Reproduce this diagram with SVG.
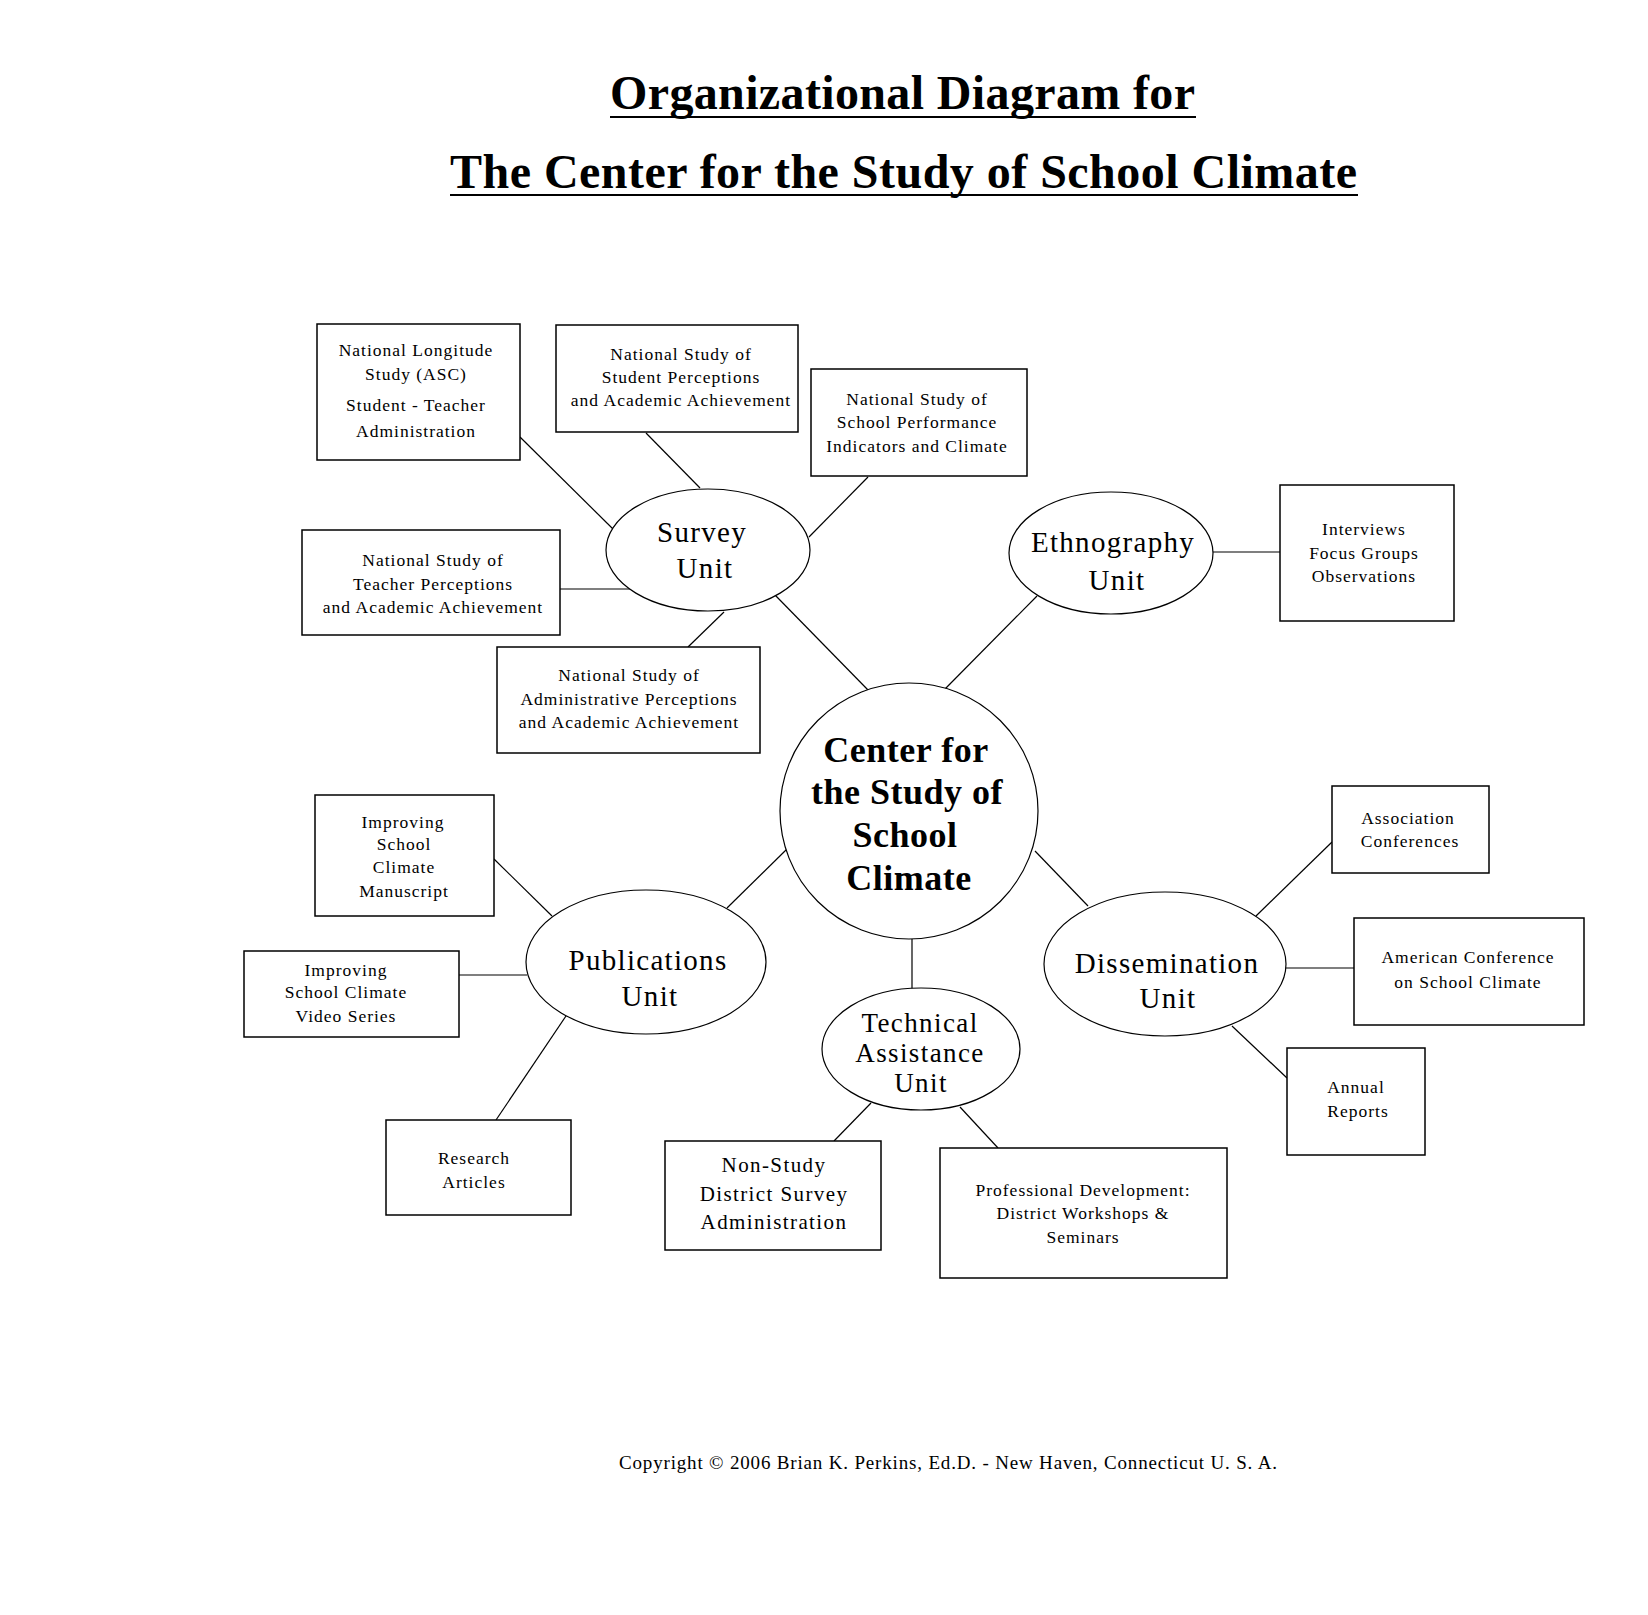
<svg xmlns="http://www.w3.org/2000/svg" width="1648" height="1615" viewBox="0 0 1648 1615">
<style>
  .bg { fill: #fff; }
  .box { fill: #fff; stroke: #000; stroke-width: 1.5; }
  .ell { fill: #fff; stroke: #000; stroke-width: 1.2; }
  .conn line { stroke: #000; stroke-width: 1.2; }
  .ul { stroke: #000; stroke-width: 2; }
  text { font-family: "Liberation Serif", "Times New Roman", serif; fill: #000; text-anchor: middle; }
  .t { font-size: 17.5px; letter-spacing: 1px; }
  .n { font-size: 21px; letter-spacing: 1.4px; }
  .u { font-size: 29px; letter-spacing: 1.3px; }
  .ta { font-size: 27px; letter-spacing: 1.4px; }
  .c { font-size: 36px; font-weight: bold; letter-spacing: 0.5px; }
  .title { font-size: 48px; font-weight: bold; text-anchor: start; }
  .copy { font-size: 19px; text-anchor: start; }
</style>
<rect class="bg" x="0" y="0" width="1648" height="1615"/>

<g id="title">
  <text class="title" x="610" y="109" textLength="585" lengthAdjust="spacing">Organizational Diagram for</text>
  <line class="ul" x1="610" y1="117" x2="1196" y2="117"/>
  <text class="title" x="450" y="188" textLength="907" lengthAdjust="spacing">The Center for the Study of School Climate</text>
  <line class="ul" x1="450" y1="195" x2="1358" y2="195"/>
</g>

<g id="connectors" class="conn">
  <line x1="775" y1="595" x2="868" y2="690"/>
  <line x1="945" y1="689" x2="1037" y2="596"/>
  <line x1="787" y1="849" x2="727" y2="908"/>
  <line x1="1035" y1="851" x2="1088" y2="906"/>
  <line x1="912" y1="939" x2="912" y2="989"/>
  <line x1="520" y1="437" x2="613" y2="529"/>
  <line x1="646" y1="433" x2="700" y2="488"/>
  <line x1="868" y1="477" x2="809" y2="537"/>
  <line x1="560" y1="589" x2="632" y2="589"/>
  <line x1="724" y1="612" x2="688" y2="647"/>
  <line x1="1213" y1="552" x2="1280" y2="552"/>
  <line x1="494" y1="859" x2="552" y2="916"/>
  <line x1="459" y1="975" x2="527" y2="975"/>
  <line x1="566" y1="1016" x2="496" y2="1120"/>
  <line x1="871" y1="1103" x2="834" y2="1141"/>
  <line x1="960" y1="1107" x2="998" y2="1148"/>
  <line x1="1256" y1="916" x2="1332" y2="842"/>
  <line x1="1285" y1="968" x2="1354" y2="968"/>
  <line x1="1232" y1="1026" x2="1287" y2="1078"/>
</g>

<g id="center">
  <ellipse class="ell" cx="909" cy="811" rx="129" ry="128"/>
  <text class="c" x="906" y="762">Center for</text>
  <text class="c" x="907" y="804">the Study of</text>
  <text class="c" x="905" y="847">School</text>
  <text class="c" x="909" y="890">Climate</text>
</g>

<g id="survey-unit">
  <ellipse class="ell" cx="708" cy="550" rx="102" ry="61"/>
  <text class="u" x="702" y="542">Survey</text>
  <text class="u" x="705" y="578">Unit</text>
</g>

<g id="ethnography-unit">
  <ellipse class="ell" cx="1111" cy="553" rx="102" ry="61"/>
  <text class="u" x="1113" y="552">Ethnography</text>
  <text class="u" x="1117" y="590">Unit</text>
</g>

<g id="publications-unit">
  <ellipse class="ell" cx="646" cy="962" rx="120" ry="72"/>
  <text class="u" x="648" y="970">Publications</text>
  <text class="u" x="650" y="1006">Unit</text>
</g>

<g id="dissemination-unit">
  <ellipse class="ell" cx="1165" cy="964" rx="121" ry="72"/>
  <text class="u" x="1167" y="973">Dissemination</text>
  <text class="u" x="1168" y="1008">Unit</text>
</g>

<g id="technical-assistance-unit">
  <ellipse class="ell" cx="921" cy="1049" rx="99" ry="61"/>
  <text class="ta" x="920" y="1032">Technical</text>
  <text class="ta" x="920" y="1062">Assistance</text>
  <text class="ta" x="921" y="1092">Unit</text>
</g>

<g id="longitude-study">
  <rect class="box" x="317" y="324" width="203" height="136"/>
  <text class="t" x="416" y="356">National Longitude</text>
  <text class="t" x="416" y="380">Study (ASC)</text>
  <text class="t" x="416" y="411">Student - Teacher</text>
  <text class="t" x="416" y="437">Administration</text>
</g>

<g id="student-perceptions">
  <rect class="box" x="556" y="325" width="242" height="107"/>
  <text class="t" x="681" y="360">National Study of</text>
  <text class="t" x="681" y="383">Student Perceptions</text>
  <text class="t" x="681" y="406">and Academic Achievement</text>
</g>

<g id="school-performance">
  <rect class="box" x="811" y="369" width="216" height="107"/>
  <text class="t" x="917" y="405">National Study of</text>
  <text class="t" x="917" y="428">School Performance</text>
  <text class="t" x="917" y="452">Indicators and Climate</text>
</g>

<g id="teacher-perceptions">
  <rect class="box" x="302" y="530" width="258" height="105"/>
  <text class="t" x="433" y="566">National Study of</text>
  <text class="t" x="433" y="590">Teacher Perceptions</text>
  <text class="t" x="433" y="613">and Academic Achievement</text>
</g>

<g id="administrative-perceptions">
  <rect class="box" x="497" y="647" width="263" height="106"/>
  <text class="t" x="629" y="681">National Study of</text>
  <text class="t" x="629" y="705">Administrative Perceptions</text>
  <text class="t" x="629" y="728">and Academic Achievement</text>
</g>

<g id="ethnography-methods">
  <rect class="box" x="1280" y="485" width="174" height="136"/>
  <text class="t" x="1364" y="535">Interviews</text>
  <text class="t" x="1364" y="559">Focus Groups</text>
  <text class="t" x="1364" y="582">Observations</text>
</g>

<g id="manuscript">
  <rect class="box" x="315" y="795" width="179" height="121"/>
  <text class="t" x="403" y="828">Improving</text>
  <text class="t" x="404" y="850">School</text>
  <text class="t" x="404" y="873">Climate</text>
  <text class="t" x="404" y="897">Manuscript</text>
</g>

<g id="video-series">
  <rect class="box" x="244" y="951" width="215" height="86"/>
  <text class="t" x="346" y="976">Improving</text>
  <text class="t" x="346" y="998">School Climate</text>
  <text class="t" x="346" y="1022">Video Series</text>
</g>

<g id="research-articles">
  <rect class="box" x="386" y="1120" width="185" height="95"/>
  <text class="t" x="474" y="1164">Research</text>
  <text class="t" x="474" y="1188">Articles</text>
</g>

<g id="non-study">
  <rect class="box" x="665" y="1141" width="216" height="109"/>
  <text class="n" x="774" y="1172">Non-Study</text>
  <text class="n" x="774" y="1201">District Survey</text>
  <text class="n" x="774" y="1229">Administration</text>
</g>

<g id="professional-development">
  <rect class="box" x="940" y="1148" width="287" height="130"/>
  <text class="t" x="1083" y="1196">Professional Development:</text>
  <text class="t" x="1083" y="1219">District Workshops &amp;</text>
  <text class="t" x="1083" y="1243">Seminars</text>
</g>

<g id="association-conferences">
  <rect class="box" x="1332" y="786" width="157" height="87"/>
  <text class="t" x="1408" y="824">Association</text>
  <text class="t" x="1410" y="847">Conferences</text>
</g>

<g id="american-conference">
  <rect class="box" x="1354" y="918" width="230" height="107"/>
  <text class="t" x="1468" y="963">American Conference</text>
  <text class="t" x="1468" y="988">on School Climate</text>
</g>

<g id="annual-reports">
  <rect class="box" x="1287" y="1048" width="138" height="107"/>
  <text class="t" x="1356" y="1093">Annual</text>
  <text class="t" x="1358" y="1117">Reports</text>
</g>

<g id="copyright">
  <text class="copy" x="619" y="1469" textLength="658" lengthAdjust="spacing">Copyright © 2006 Brian K. Perkins, Ed.D. - New Haven, Connecticut U. S. A.</text>
</g>
</svg>
